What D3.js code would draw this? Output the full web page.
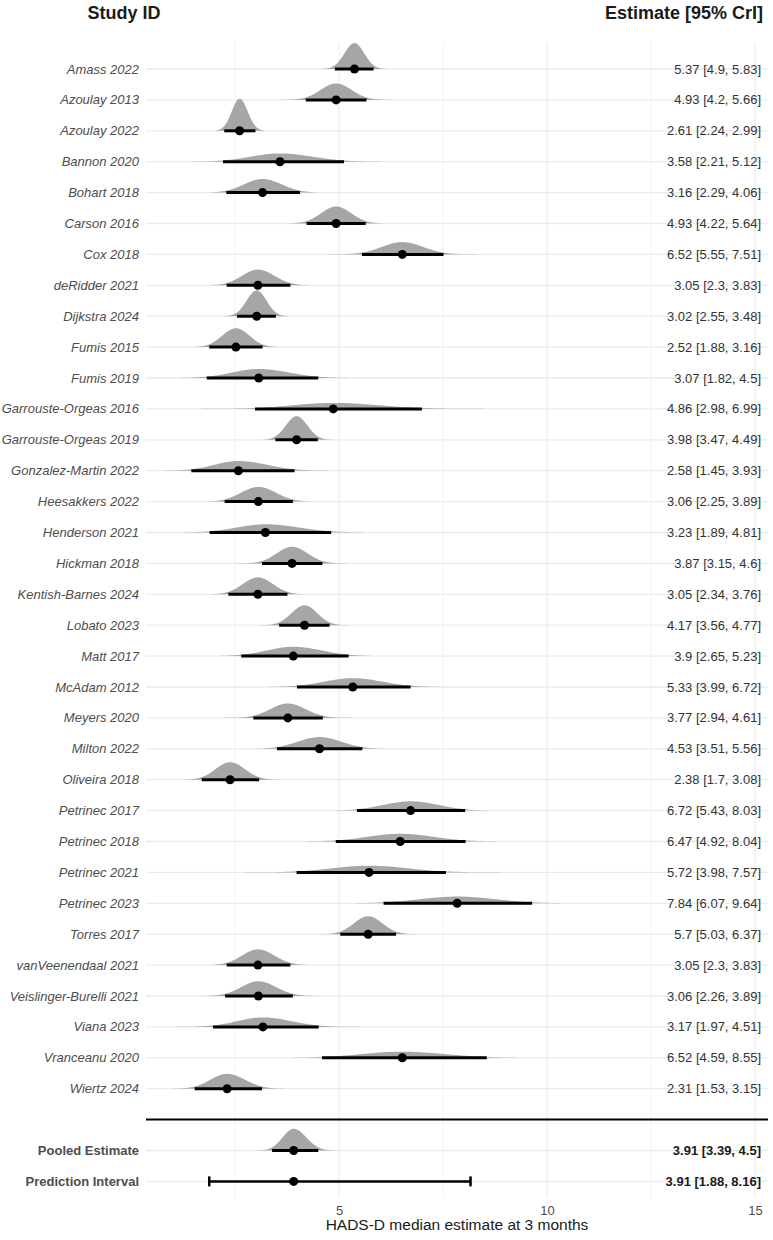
<!DOCTYPE html>
<html>
<head>
<meta charset="utf-8" />
<title>HADS-D forest plot</title>
<script src="https://cdn.jsdelivr.net/npm/d3@7"></script>
<style>
    body { margin: 0; background: #fff; font-family: "Liberation Sans", Arial, sans-serif; }
    .study { font-size: 13px; font-style: italic; fill: #4d4d4d; }
    .summary { font-size: 13px; font-weight: bold; fill: #4d4d4d; }
    .est { font-size: 13px; fill: #333; }
    .est.bold { font-weight: bold; fill: #1a1a1a; }
    .head { font-size: 18px; font-weight: bold; fill: #1a1a1a; }
    .axis text { font-size: 13px; fill: #4d4d4d; }
    .axis path { display: none; }
</style>
</head>
<body>
<div id="chart"></div>
<script>
// study rows, top to bottom
var studies = ["Amass 2022", "Azoulay 2013", "Azoulay 2022", "Bannon 2020", "Bohart 2018",
    "Carson 2016", "Cox 2018", "deRidder 2021", "Dijkstra 2024", "Fumis 2015", "Fumis 2019",
    "Garrouste-Orgeas 2016", "Garrouste-Orgeas 2019", "Gonzalez-Martin 2022", "Heesakkers 2022",
    "Henderson 2021", "Hickman 2018", "Kentish-Barnes 2024", "Lobato 2023", "Matt 2017",
    "McAdam 2012", "Meyers 2020", "Milton 2022", "Oliveira 2018", "Petrinec 2017", "Petrinec 2018",
    "Petrinec 2021", "Petrinec 2023", "Torres 2017", "vanVeenendaal 2021", "Veislinger-Burelli 2021",
    "Viana 2023", "Vranceanu 2020", "Wiertz 2024"];
var medians = [5.37, 4.93, 2.61, 3.58, 3.16, 4.93, 6.52, 3.05, 3.02, 2.52, 3.07, 4.86, 3.98, 2.58,
    3.06, 3.23, 3.87, 3.05, 4.17, 3.9, 5.33, 3.77, 4.53, 2.38, 6.72, 6.47, 5.72, 7.84, 5.7, 3.05,
    3.06, 3.17, 6.52, 2.31];
var lowers = [4.9, 4.2, 2.24, 2.21, 2.29, 4.22, 5.55, 2.3, 2.55, 1.88, 1.82, 2.98, 3.47, 1.45,
    2.25, 1.89, 3.15, 2.34, 3.56, 2.65, 3.99, 2.94, 3.51, 1.7, 5.43, 4.92, 3.98, 6.07, 5.03, 2.3,
    2.26, 1.97, 4.59, 1.53];
var uppers = [5.83, 5.66, 2.99, 5.12, 4.06, 5.64, 7.51, 3.83, 3.48, 3.16, 4.5, 6.99, 4.49, 3.93,
    3.89, 4.81, 4.6, 3.76, 4.77, 5.23, 6.72, 4.61, 5.56, 3.08, 8.03, 8.04, 7.57, 9.64, 6.37, 3.83,
    3.89, 4.51, 8.55, 3.15];

// pooled rows
var pooledLabels = ["Pooled Estimate", "Prediction Interval"];
var pooledMedians = [3.91, 3.91];
var pooledLowers = [3.39, 1.88];
var pooledUppers = [4.5, 8.16];

var xTicks = [5, 10, 15];
var xMinor = [2.5, 7.5, 12.5];

var width = 773, height = 1240;
var panelLeft = 146, panelRight = 768, panelTop = 42, panelBottom = 1198;

var svg = d3.select("#chart").append("svg")
    .attr("width", width)
    .attr("height", height);

var x = d3.scaleLinear()
    .domain([0.36, 15.31])
    .range([panelLeft, panelRight]);

var rowKeys = studies.concat(["__sep__"], pooledLabels);
var y = d3.scalePoint()
    .domain(rowKeys)
    .range([69, 1181.4]);

// density height factor (px per unit of density)
var densScale = 15.4;

svg.append("defs").append("clipPath").attr("id", "panel")
    .append("rect")
    .attr("x", panelLeft).attr("y", 0)
    .attr("width", panelRight - panelLeft).attr("height", panelBottom);

// grid
svg.append("g").selectAll("line")
    .data(xMinor).enter().append("line")
    .attr("x1", function (d) { return x(d); }).attr("x2", function (d) { return x(d); })
    .attr("y1", panelTop).attr("y2", panelBottom)
    .attr("stroke", "#f0f0f0").attr("stroke-width", 0.8);

svg.append("g").selectAll("line")
    .data(xTicks).enter().append("line")
    .attr("x1", function (d) { return x(d); }).attr("x2", function (d) { return x(d); })
    .attr("y1", panelTop).attr("y2", panelBottom)
    .attr("stroke", "#ebebeb").attr("stroke-width", 1.1);

svg.append("g").selectAll("line")
    .data(rowKeys.filter(function (k) { return k !== "__sep__"; })).enter().append("line")
    .attr("x1", panelLeft).attr("x2", panelRight)
    .attr("y1", function (d) { return y(d); }).attr("y2", function (d) { return y(d); })
    .attr("stroke", "#ebebeb").attr("stroke-width", 1.3);

// separator
svg.append("line")
    .attr("x1", panelLeft).attr("x2", panelRight)
    .attr("y1", y("__sep__")).attr("y2", y("__sep__"))
    .attr("stroke", "#000").attr("stroke-width", 2);

// split normal density from median and 95% interval
function densityPath(m, lo, hi, rowY) {
    var s1 = (m - lo) / 1.96, s2 = (hi - m) / 1.96;
    var norm = 2 / (Math.sqrt(2 * Math.PI) * (s1 + s2));
    var pts = [];
    var a = m - 3.6 * s1, b = m + 3.6 * s2, n = 160;
    for (var i = 0; i <= n; i++) {
        var v = a + (b - a) * i / n;
        var s = v < m ? s1 : s2;
        var f = norm * Math.exp(-(v - m) * (v - m) / (2 * s * s));
        pts.push([v, f]);
    }
    return d3.area()
        .x(function (p) { return x(p[0]); })
        .y0(rowY)
        .y1(function (p) { return rowY - densScale * p[1]; })(pts);
}

var marks = svg.append("g").attr("clip-path", "url(#panel)");

var rows = studies.map(function (s, i) {
    return { label: s, m: medians[i], lo: lowers[i], hi: uppers[i] };
});

rows.forEach(function (d) {
    var ry = y(d.label);
    marks.append("path")
        .attr("d", densityPath(d.m, d.lo, d.hi, ry))
        .attr("fill", "#a6a6a6");
    marks.append("line")
        .attr("x1", x(d.lo)).attr("x2", x(d.hi))
        .attr("y1", ry).attr("y2", ry)
        .attr("stroke", "#000").attr("stroke-width", 3);
    marks.append("circle")
        .attr("cx", x(d.m)).attr("cy", ry).attr("r", 4.5).attr("fill", "#000");
});

// pooled estimate (density) and prediction interval (error bar)
var py = y(pooledLabels[0]);
marks.append("path")
    .attr("d", densityPath(pooledMedians[0], pooledLowers[0], pooledUppers[0], py))
    .attr("fill", "#a6a6a6");
marks.append("line")
    .attr("x1", x(pooledLowers[0])).attr("x2", x(pooledUppers[0]))
    .attr("y1", py).attr("y2", py)
    .attr("stroke", "#000").attr("stroke-width", 3);
marks.append("circle")
    .attr("cx", x(pooledMedians[0])).attr("cy", py).attr("r", 4.5).attr("fill", "#000");

var qy = y(pooledLabels[1]);
marks.append("line")
    .attr("x1", x(pooledLowers[1])).attr("x2", x(pooledUppers[1]))
    .attr("y1", qy).attr("y2", qy)
    .attr("stroke", "#000").attr("stroke-width", 2.5);
[pooledLowers[1], pooledUppers[1]].forEach(function (v) {
    marks.append("line")
        .attr("x1", x(v)).attr("x2", x(v))
        .attr("y1", qy - 5).attr("y2", qy + 5)
        .attr("stroke", "#000").attr("stroke-width", 2.5);
});
marks.append("circle")
    .attr("cx", x(pooledMedians[1])).attr("cy", qy).attr("r", 4.5).attr("fill", "#000");

// row labels
svg.append("g").selectAll("text")
    .data(studies).enter().append("text")
    .attr("class", "study")
    .attr("x", 139)
    .attr("y", function (d) { return y(d); })
    .attr("dy", "0.35em")
    .attr("text-anchor", "end")
    .text(function (d) { return d; });

svg.append("g").selectAll("text")
    .data(pooledLabels).enter().append("text")
    .attr("class", "summary")
    .attr("x", 139)
    .attr("y", function (d) { return y(d); })
    .attr("dy", "0.35em")
    .attr("text-anchor", "end")
    .text(function (d) { return d; });

// estimate column
var fmt = function (m, lo, hi) { return m + " [" + lo + ", " + hi + "]"; };
var textX = 761;
rows.forEach(function (d) {
    svg.append("text")
        .attr("class", "est")
        .attr("x", textX).attr("y", y(d.label)).attr("dy", "0.35em")
        .attr("text-anchor", "end")
        .text(fmt(d.m, d.lo, d.hi));
});
pooledLabels.forEach(function (l, i) {
    svg.append("text")
        .attr("class", "est bold")
        .attr("x", textX).attr("y", y(l)).attr("dy", "0.35em")
        .attr("text-anchor", "end")
        .text(fmt(pooledMedians[i], pooledLowers[i], pooledUppers[i]));
});

// headers
svg.append("text").attr("class", "head")
    .attr("x", 124).attr("y", 19).attr("text-anchor", "middle")
    .text("Study ID");
svg.append("text").attr("class", "head")
    .attr("x", 763).attr("y", 19).attr("text-anchor", "end")
    .text("Estimate [95% CrI]");

// x axis
svg.append("g")
    .attr("class", "axis")
    .attr("transform", "translate(0," + panelBottom + ")")
    .call(d3.axisBottom(x).tickValues(xTicks).tickSize(0).tickPadding(8));

svg.append("text")
    .attr("x", (panelLeft + panelRight) / 2)
    .attr("y", 1230)
    .attr("text-anchor", "middle")
    .style("font-size", "15.5px")
    .style("fill", "#1a1a1a")
    .text("HADS-D median estimate at 3 months");
</script>
</body>
</html>
